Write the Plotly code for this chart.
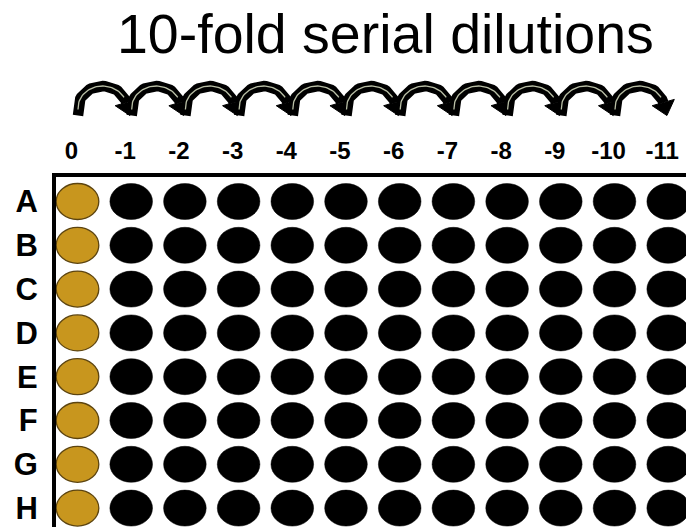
import math
import plotly.graph_objects as go

# ---- data ----
col_labels = ["0", "-1", "-2", "-3", "-4", "-5", "-6", "-7", "-8", "-9", "-10", "-11"]
row_labels = ["A", "B", "C", "D", "E", "F", "G", "H"]
undiluted_cols = ["0"]          # gold wells
title_text = "10-fold serial dilutions"

# ---- styling constants ----
W, H = 686, 527
FONT = "Liberation Sans, Arial, sans-serif"
GOLD = "#C8961E"
GOLD_EDGE = "#5C4410"
PX_PER_COL = 53.7      # pixel spacing between columns
PX_PER_ROW = 43.8      # pixel spacing between rows
PLOT_L, PLOT_T = 56, 177
PLOT_W, PLOT_H = W - PLOT_L, H - PLOT_T
COL0_PX, ROW0_PX = 77.5, 201.5

x0 = -(COL0_PX - PLOT_L) / PX_PER_COL
x1 = x0 + PLOT_W / PX_PER_COL
y0 = -(ROW0_PX - PLOT_T) / PX_PER_ROW
y1 = y0 + PLOT_H / PX_PER_ROW

well_rx = 21.3 / PX_PER_COL
well_ry = 18.0 / PX_PER_ROW

fig = go.Figure()

# wells as ellipses in data coordinates
shapes = []
for ci, cl in enumerate(col_labels):
    gold = cl in undiluted_cols
    for ri, rl in enumerate(row_labels):
        shapes.append(dict(
            type="circle", xref="x", yref="y",
            x0=ci - well_rx, x1=ci + well_rx,
            y0=ri - well_ry, y1=ri + well_ry,
            fillcolor=GOLD if gold else "black",
            line=dict(color=GOLD_EDGE if gold else "black", width=1.3 if gold else 0.5),
            layer="above",
        ))

# invisible trace to anchor the plate axes
fig.add_trace(go.Scatter(
    x=[ci for ci in range(len(col_labels)) for _ in row_labels],
    y=[ri for _ in col_labels for ri in range(len(row_labels))],
    mode="markers", marker=dict(size=1, opacity=0), hoverinfo="skip", showlegend=False,
    xaxis="x", yaxis="y",
))

# ---- dilution arrows (one between each pair of consecutive columns) ----
band_x, band_y, inner_x, inner_y, head_x, head_y = [], [], [], [], [], []
cxo, rx, ry, by = 25.0, 24.5, 22.0, 108.0   # pixel geometry of an arc
t_end = 0.25
n = 40
for i in range(len(col_labels) - 1):
    def X(px):
        return i + px / PX_PER_COL
    band_x.append(X(cxo - rx)); band_y.append(115.5)
    for k in range(n + 1):
        t = math.pi - (math.pi - t_end) * k / n
        band_x.append(X(cxo + rx * math.cos(t)))
        band_y.append(by - ry * math.sin(t))
    band_x.append(None); band_y.append(None)
    for k in range(n + 1):
        t = math.pi - (math.pi - 0.5) * k / n
        inner_x.append(X(cxo + rx * math.cos(t)))
        inner_y.append(by - ry * math.sin(t) + (1.5 if k == 0 else 0))
    inner_x.append(None); inner_y.append(None)
    ex, ey = cxo + rx * math.cos(t_end), by - ry * math.sin(t_end)
    dx, dy = rx * math.sin(t_end), ry * math.cos(t_end)
    nrm = math.hypot(dx, dy)
    dx, dy = dx / nrm, dy / nrm
    px_, py_ = dy, -dx
    hw, hl = 11.5, 13.5
    pts = [(ex + hw * px_, ey + hw * py_), (ex + hl * dx, ey + hl * dy), (ex - hw * px_, ey - hw * py_)]
    for (a, b) in pts + [pts[0]]:
        head_x.append(X(a)); head_y.append(b)
    head_x.append(None); head_y.append(None)

fig.add_trace(go.Scatter(x=band_x, y=band_y, mode="lines", line=dict(color="black", width=10.5),
                         hoverinfo="skip", showlegend=False, xaxis="x2", yaxis="y2"))
fig.add_trace(go.Scatter(x=head_x, y=head_y, mode="lines", fill="toself", fillcolor="black",
                         line=dict(color="black", width=1), hoverinfo="skip", showlegend=False,
                         xaxis="x2", yaxis="y2"))
fig.add_trace(go.Scatter(x=inner_x, y=inner_y, mode="lines", line=dict(color="#b9bfa6", width=1.3),
                         hoverinfo="skip", showlegend=False, xaxis="x2", yaxis="y2"))

# title
fig.add_annotation(text=title_text, xref="paper", yref="paper",
                   x=(385 - PLOT_L) / PLOT_W, y=(H - 34) / H, xanchor="center", yanchor="middle",
                   showarrow=False, font=dict(family=FONT, size=55.5, color="black"))

fig.update_layout(
    width=W, height=H,
    margin=dict(l=PLOT_L, r=0, t=0, b=0, pad=0, autoexpand=False),
    paper_bgcolor="white", plot_bgcolor="white",
    showlegend=False,
    shapes=shapes,
    xaxis=dict(range=[x0, x1], side="top", anchor="y", domain=[0, 1], automargin=False,
               tickvals=list(range(len(col_labels))), ticktext=col_labels,
               tickfont=dict(family=FONT, size=24, color="black", weight="bold"),
               ticks="", showline=True, linewidth=4, linecolor="black",
               showgrid=False, zeroline=False, fixedrange=True,
               ticklabelshift=-6, ticklabelstandoff=4),
    yaxis=dict(range=[y1, y0], anchor="x", domain=[0, PLOT_H / H], automargin=False,
               tickvals=list(range(len(row_labels))), ticktext=row_labels,
               tickfont=dict(family=FONT, size=31, color="black", weight="bold"),
               ticks="", showline=True, linewidth=4, linecolor="black",
               showgrid=False, zeroline=False, fixedrange=True,
               ticklabelstandoff=8),
    xaxis2=dict(matches="x", anchor="y2", visible=False, domain=[0, 1], fixedrange=True),
    yaxis2=dict(range=[125, 75], anchor="x2", domain=[(H - 125) / H, (H - 75) / H],
                visible=False, fixedrange=True),
)

fig.write_html("out.html", config={"displayModeBar": False},
               post_script="document.body.style.margin='0px';")
